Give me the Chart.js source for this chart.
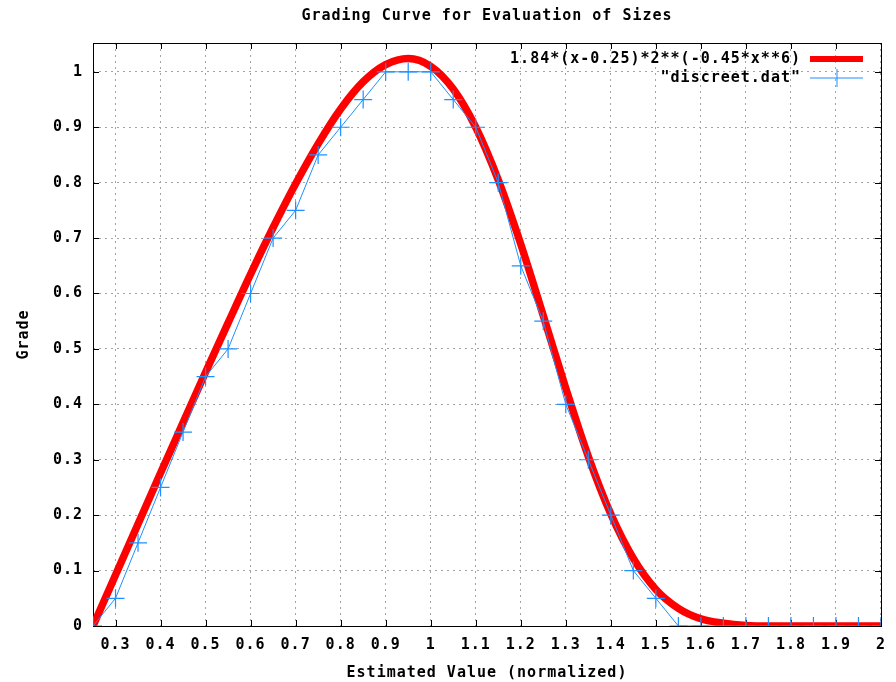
<!DOCTYPE html>
<html>
<head>
<meta charset="utf-8">
<script src="https://cdn.jsdelivr.net/npm/chart.js@4.4.1/dist/chart.umd.min.js"></script>
<style>
  html, body { margin: 0; padding: 0; background: #fff; }
</style>
</head>
<body>
<canvas id="grading" width="896" height="682"></canvas>
<script>
const TITLE = 'Grading Curve for Evaluation of Sizes';
const X_LABEL = 'Estimated Value (normalized)';
const Y_LABEL = 'Grade';

// smooth red curve
const curveLabel = '1.84*(x-0.25)*2**(-0.45*x**6)';
const curveX = [0.25, 0.3, 0.35, 0.4, 0.45, 0.5, 0.55, 0.6, 0.65, 0.7, 0.75, 0.8, 0.85, 0.9, 0.95, 1.0,
  1.05, 1.1, 1.15, 1.2, 1.25, 1.3, 1.35, 1.4, 1.45, 1.5, 1.55, 1.6, 1.65, 1.7, 1.75, 1.8, 1.85, 1.9, 1.95, 2.0];
const curveY = [0, 0.092, 0.184, 0.276, 0.367, 0.458, 0.547, 0.635, 0.719, 0.798, 0.870, 0.933, 0.982, 1.013, 1.024, 1.010,
  0.969, 0.900, 0.805, 0.689, 0.560, 0.429, 0.306, 0.202, 0.122, 0.066, 0.032, 0.013, 0.005, 0.001, 0, 0, 0, 0, 0, 0];

// blue step data ("discreet.dat")
const discreetLabel = '"discreet.dat"';
const discreetX = [0.25, 0.3, 0.35, 0.4, 0.45, 0.5, 0.55, 0.6, 0.65, 0.7, 0.75, 0.8, 0.85, 0.9, 0.95, 1.0,
  1.05, 1.1, 1.15, 1.2, 1.25, 1.3, 1.35, 1.4, 1.45, 1.5, 1.55, 1.6, 1.65, 1.7, 1.75, 1.8, 1.85, 1.9, 1.95, 2.0];
const discreetY = [0, 0.05, 0.15, 0.25, 0.35, 0.45, 0.5, 0.6, 0.7, 0.75, 0.85, 0.9, 0.95, 1, 1, 1,
  0.95, 0.9, 0.8, 0.65, 0.55, 0.4, 0.3, 0.2, 0.1, 0.05, 0, 0, 0, 0, 0, 0, 0, 0, 0, 0];

const xTicks = [0.3, 0.4, 0.5, 0.6, 0.7, 0.8, 0.9, 1, 1.1, 1.2, 1.3, 1.4, 1.5, 1.6, 1.7, 1.8, 1.9, 2];
const yTicks = [0, 0.1, 0.2, 0.3, 0.4, 0.5, 0.6, 0.7, 0.8, 0.9, 1];

const FONT = 'DejaVu Sans Mono';
const SPACING = '1px';   // gnuplot's font is wider than DejaVu
const RED = '#ff0000';
const BLUE = 'rgb(30,144,255)';
const GRID = '#a4a4a4';

const toPoints = (xs, ys) => xs.map((x, i) => ({ x: x, y: ys[i] }));
const boldFont = { family: FONT, size: 15, weight: 'bold' };

const spacing = {
  id: 'spacing',
  beforeLayout(chart) { chart.ctx.letterSpacing = SPACING; },
  beforeDraw(chart) { chart.ctx.letterSpacing = SPACING; }
};

// box around the plot + gnuplot style inner ticks on all four sides
const frame = {
  id: 'frame',
  beforeDatasetsDraw(chart) {
    const { ctx, chartArea: a, scales } = chart;
    ctx.save();
    ctx.strokeStyle = '#000';
    ctx.lineWidth = 1;
    ctx.setLineDash([]);
    ctx.beginPath();
    xTicks.forEach(v => {
      const px = Math.round(scales.x.getPixelForValue(v)) + 0.5;
      ctx.moveTo(px, a.bottom); ctx.lineTo(px, a.bottom - 6);
      ctx.moveTo(px, a.top); ctx.lineTo(px, a.top + 6);
    });
    yTicks.forEach(v => {
      const py = Math.round(scales.y.getPixelForValue(v)) + 0.5;
      ctx.moveTo(a.left, py); ctx.lineTo(a.left + 6, py);
      ctx.moveTo(a.right, py); ctx.lineTo(a.right - 6, py);
    });
    ctx.stroke();
    ctx.strokeRect(Math.round(a.left) + 0.5, Math.round(a.top) + 0.5,
      Math.round(a.right - a.left), Math.round(a.bottom - a.top));
    ctx.restore();
  },
  afterDraw(chart) {
    const { ctx, chartArea: a } = chart;
    ctx.save();
    ctx.letterSpacing = SPACING;
    ctx.fillStyle = '#000';
    ctx.font = 'bold 15px "' + FONT + '"';
    ctx.textAlign = 'center';
    ctx.textBaseline = 'middle';
    ctx.fillText(TITLE, (a.left + a.right) / 2, 16);

    // legend, top right inside the plot
    const tx = a.right - 80, sx0 = a.right - 71, sx1 = a.right - 18;
    ctx.textAlign = 'right';
    chart.data.datasets.forEach((ds, i) => {
      const y = 59 + i * 19;
      ctx.fillStyle = '#000';
      ctx.fillText(ds.label, tx, y);
      ctx.strokeStyle = ds.borderColor;
      ctx.lineWidth = Math.min(ds.borderWidth, 6);
      ctx.beginPath();
      ctx.moveTo(sx0, y); ctx.lineTo(sx1, y);
      if (ds.pointStyle === 'cross') {
        const cx = (sx0 + sx1) / 2 + 0.5;
        ctx.moveTo(cx, y - ds.pointRadius); ctx.lineTo(cx, y + ds.pointRadius);
      }
      ctx.stroke();
    });
    ctx.restore();
  }
};

new Chart(document.getElementById('grading'), {
  type: 'line',
  data: {
    datasets: [
      {
        label: curveLabel,
        data: toPoints(curveX, curveY),
        borderColor: RED,
        borderWidth: 7.5,
        pointRadius: 0,
        cubicInterpolationMode: 'monotone',
        order: 2
      },
      {
        label: discreetLabel,
        data: toPoints(discreetX, discreetY),
        borderColor: BLUE,
        borderWidth: 1,
        pointStyle: 'cross',
        pointRadius: 9,
        pointBorderWidth: 1.2,
        pointBorderColor: BLUE,
        tension: 0,
        order: 1
      }
    ]
  },
  options: {
    responsive: false,
    animation: false,
    devicePixelRatio: 1,
    layout: { padding: { top: 43, right: 11, left: 0, bottom: 0 } },
    plugins: {
      legend: { display: false },
      tooltip: { enabled: false }
    },
    scales: {
      x: {
        type: 'linear',
        min: 0.25,
        max: 2,
        afterBuildTicks: s => { s.ticks = xTicks.map(v => ({ value: v })); },
        afterFit: s => { s.height = 56; },
        border: { display: false, dash: [2, 4] },
        grid: { color: GRID, drawTicks: false },
        ticks: {
          padding: 10,
          color: '#000',
          font: boldFont,
          maxRotation: 0,
          autoSkip: false,
          callback: v => String(v)
        },
        title: {
          display: true,
          text: X_LABEL,
          color: '#000',
          font: boldFont,
          padding: { top: 0, bottom: 0 }
        }
      },
      y: {
        min: 0,
        max: 1.052,
        afterBuildTicks: s => { s.ticks = yTicks.map(v => ({ value: v })); },
        afterFit: s => { s.width = 93; },
        border: { display: false, dash: [2, 4] },
        grid: { color: GRID, drawTicks: false },
        ticks: {
          padding: 10,
          color: '#000',
          font: boldFont,
          callback: v => String(v)
        },
        title: {
          display: true,
          text: Y_LABEL,
          color: '#000',
          font: boldFont,
          padding: { top: 15, bottom: 0 }
        }
      }
    }
  },
  plugins: [spacing, frame]
});
</script>
</body>
</html>
